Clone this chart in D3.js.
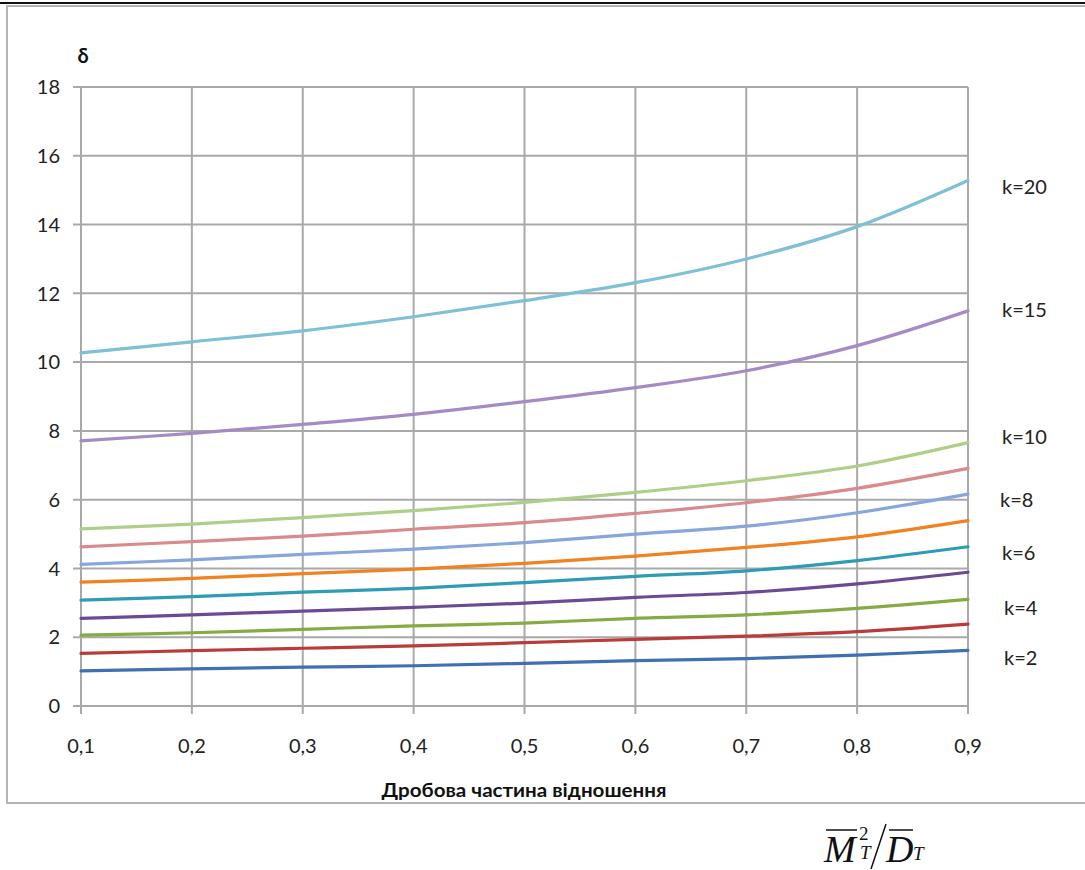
<!DOCTYPE html>
<html>
<head>
<meta charset="utf-8">
<script src="https://cdn.jsdelivr.net/npm/d3@7"></script>
<style>
  body { margin: 0; background: #fff; }
  svg { display: block; }
</style>
</head>
<body>
<div id="chart"></div>
<script>
// fractional part values on the x axis
const xValues = [0.1, 0.2, 0.3, 0.4, 0.5, 0.6, 0.7, 0.8, 0.9];
const xTickLabels = ["0,1", "0,2", "0,3", "0,4", "0,5", "0,6", "0,7", "0,8", "0,9"];
const yTicks = [0, 2, 4, 6, 8, 10, 12, 14, 16, 18];

// delta per k
const kValues = [2, 3, 4, 5, 6, 7, 8, 9, 10, 15, 20];
const delta2 = [1.02, 1.08, 1.13, 1.17, 1.24, 1.32, 1.38, 1.48, 1.62];
const delta3 = [1.53, 1.61, 1.68, 1.75, 1.84, 1.94, 2.03, 2.16, 2.38];
const delta4 = [2.06, 2.13, 2.23, 2.33, 2.41, 2.55, 2.65, 2.84, 3.10];
const delta5 = [2.55, 2.65, 2.76, 2.87, 2.99, 3.16, 3.30, 3.55, 3.89];
const delta6 = [3.08, 3.18, 3.31, 3.42, 3.59, 3.77, 3.93, 4.23, 4.63];
const delta7 = [3.60, 3.71, 3.85, 3.98, 4.15, 4.36, 4.61, 4.92, 5.39];
const delta8 = [4.12, 4.25, 4.41, 4.56, 4.75, 5.00, 5.23, 5.62, 6.16];
const delta9 = [4.63, 4.78, 4.94, 5.14, 5.33, 5.60, 5.91, 6.33, 6.91];
const delta10 = [5.15, 5.29, 5.48, 5.68, 5.92, 6.21, 6.55, 6.98, 7.66];
const delta15 = [7.71, 7.93, 8.19, 8.48, 8.85, 9.26, 9.75, 10.48, 11.49];
const delta20 = [10.27, 10.59, 10.91, 11.32, 11.79, 12.31, 13.00, 13.94, 15.28];
const allDeltas = [delta2, delta3, delta4, delta5, delta6, delta7, delta8, delta9, delta10, delta15, delta20];
const colors = ["#3f70b2", "#b93c3a", "#86ab42", "#6a4b93", "#2f9cb6", "#f0821f",
                "#87a6db", "#d98a8a", "#aecf88", "#a48bc5", "#7ec0d5"];

// curve labels on the right and the delta level they sit at
const labelTexts = ["k=20", "k=15", "k=10", "k=8", "k=6", "k=4", "k=2"];
const labelLevels = [15.1, 11.52, 7.82, 5.99, 4.45, 2.85, 1.4];

const W = 1085, H = 870;
const m = { left: 81, right: 117, top: 87, bottom: 164 };

const svg = d3.select("#chart").append("svg").attr("width", W).attr("height", H);

// outer frame, as in the scanned page
svg.append("rect").attr("x", 0).attr("y", 2).attr("width", W).attr("height", 2).attr("fill", "#111");
svg.append("rect").attr("x", 7).attr("y", 6).attr("width", W + 10).attr("height", 797)
  .attr("fill", "none").attr("stroke", "#b4b4b4").attr("stroke-width", 2);

const x = d3.scaleLinear().domain([0.1, 0.9]).range([m.left, W - m.right]);
const y = d3.scaleLinear().domain([0, 18]).range([H - m.bottom, m.top]);

const gridColor = "#a9a9a9";
const font = "Lato, 'Open Sans', sans-serif";

// vertical grid
svg.append("g").selectAll("line").data(xValues).join("line")
  .attr("x1", d => x(d)).attr("x2", d => x(d))
  .attr("y1", y(18)).attr("y2", y(0) + 8)
  .attr("stroke", gridColor).attr("stroke-width", 2);

// horizontal grid
svg.append("g").selectAll("line").data(yTicks).join("line")
  .attr("x1", x(0.1) - 8).attr("x2", x(0.9))
  .attr("y1", d => y(d)).attr("y2", d => y(d))
  .attr("stroke", gridColor).attr("stroke-width", 2);

// y tick labels
svg.append("g").selectAll("text").data(yTicks).join("text")
  .attr("x", 60).attr("y", d => y(d)).attr("dy", "0.36em")
  .attr("text-anchor", "end")
  .style("font-family", font).style("font-size", "20px").style("fill", "#222")
  .text(d => d);

// x tick labels
svg.append("g").selectAll("text").data(xValues).join("text")
  .attr("x", d => x(d)).attr("y", 753)
  .attr("text-anchor", "middle")
  .style("font-family", font).style("font-size", "20px").style("fill", "#222")
  .text((d, i) => xTickLabels[i]);

// curves
const line = d3.line()
  .x((d, i) => x(xValues[i]))
  .y(d => y(d))
  .curve(d3.curveCatmullRom.alpha(0.5));

svg.append("g").selectAll("path").data(allDeltas).join("path")
  .attr("d", line)
  .attr("fill", "none")
  .attr("stroke", (d, i) => colors[i])
  .attr("stroke-width", 3.2)
  .attr("stroke-linecap", "round");

// curve labels
svg.append("g").selectAll("text").data(labelTexts).join("text")
  .attr("x", (d, i) => d === "k=8" ? 1000 : (d === "k=4" || d === "k=2") ? 1004 : 1002)
  .attr("y", (d, i) => y(labelLevels[i])).attr("dy", "0.36em")
  .style("font-family", font).style("font-size", "20px").style("fill", "#222")
  .text(d => d);

// axis titles
svg.append("text").attr("x", 83).attr("y", 63).attr("text-anchor", "middle")
  .style("font-family", font).style("font-size", "20px").style("font-weight", "bold").style("fill", "#111")
  .text("δ");

svg.append("text").attr("x", 524).attr("y", 797).attr("text-anchor", "middle")
  .style("font-family", font).style("font-size", "19px").style("font-weight", "bold").style("fill", "#111")
  .attr("textLength", 285).attr("lengthAdjust", "spacingAndGlyphs")
  .text("Дробова частина відношення");

// formula under the chart: (M_T)^2 / D_T with overbars
const serif = "'Liberation Serif', 'Times New Roman', serif";
const f = svg.append("g").style("font-family", serif).style("font-style", "italic").style("fill", "#111");
f.append("text").attr("x", 824).attr("y", 862).style("font-size", "38px").text("M");
f.append("text").attr("x", 859).attr("y", 840).style("font-size", "19px").style("font-style", "normal").text("2");
f.append("text").attr("x", 860).attr("y", 859).style("font-size", "19px").text("T");
f.append("text").attr("x", 886).attr("y", 862).style("font-size", "38px").text("D");
f.append("text").attr("x", 913).attr("y", 860).style("font-size", "19px").text("T");
f.append("line").attr("x1", 826).attr("x2", 857).attr("y1", 830).attr("y2", 830).attr("stroke", "#111").attr("stroke-width", 1.5);
f.append("line").attr("x1", 889).attr("x2", 913).attr("y1", 830).attr("y2", 830).attr("stroke", "#111").attr("stroke-width", 1.5);
f.append("line").attr("x1", 871).attr("x2", 886).attr("y1", 869).attr("y2", 824).attr("stroke", "#111").attr("stroke-width", 1.5);
</script>
</body>
</html>
